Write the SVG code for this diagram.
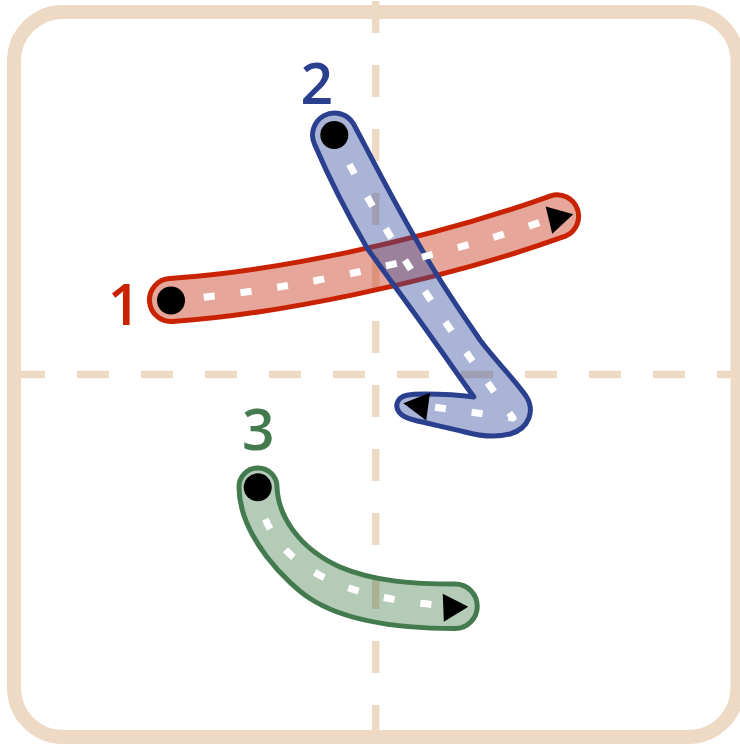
<svg xmlns="http://www.w3.org/2000/svg" width="740" height="744" viewBox="0 0 740 744">
  <style>
    .guide { fill: none; stroke: #eed9c4; stroke-width: 7.5; stroke-dasharray: 32 32; }
    .band { stroke-width: 5; stroke-linejoin: round; }
    .dir { fill: none; stroke: #ffffff; stroke-width: 7; stroke-dasharray: 11 26; stroke-dashoffset: 4; stroke-linejoin: round; }
    .start { fill: #000000; }
    .label { font-family: "Open Sans", "Liberation Sans", Arial, sans-serif; font-weight: 600; font-size: 57px; text-anchor: middle; }
  </style>
  <defs>
    <polygon id="arrow" points="-10,-14 15,0 -10,14" fill="#000000"/>
  </defs>

  <g id="frame">
    <rect x="14" y="12" width="723.5" height="725" rx="49" ry="49" fill="#ffffff" stroke="#eed9c4" stroke-width="14"/>
  </g>

  <g id="guides">
    <line class="guide" x1="375.7" y1="1" x2="375.7" y2="744"/>
    <line class="guide" x1="13" y1="374.5" x2="740" y2="374.5"/>
  </g>

  <g id="stroke-1">
    <path class="band" fill="#c83c1e" fill-opacity="0.45" stroke="#c82200"
      d="M169.6,278.5 C263.6,272.5 417.7,243.8 550.7,195.8 A21.5,21.5 0 0 1 565.3,236.2 C432.3,284.2 266.4,315.5 172.4,321.5 A21.5,21.5 0 0 1 169.6,278.5 Z"/>
  </g>

  <g id="stroke-2">
    <path class="band" fill="#344da0" fill-opacity="0.42" stroke="#2b3f8f"
      d="M314.7,144.5 A22,22 0 0 1 353.3,123.5 C365,145 395,205 425,255 C445,290 470,325 480,340 C495,360 515,380 526,396 C535,410 530,428 510,434 C495,438 480,436 465,432 C445,427 425,423 414,420 C400,417 394,409 398,401 C401,395 410,394 425,394 C440,394 460,395 474,397 C460,378 445,356 432,338 C410,307 390,280 367,248 C352,222 332,185 314.7,144.5 Z"/>
  </g>

  <g id="stroke-3">
    <path class="band" fill="#3c7846" fill-opacity="0.385" stroke="#437a4e"
      d="M239,487 A19,19 0 0 1 277,487 C278,515 298,548 340,567 C375,582 415,584 455,584 A22.25,22.25 0 0 1 455,628.5 C405,628.5 347.7,623.1 310,598.5 C289,584.9 239,537 239,487 Z"/>
  </g>

  <g id="connectors">
    <path class="dir" d="M171,300 C265,294 425,264 558,216"/>
    <path class="dir" d="M334,135 C384,232.5 433,307.6 513,418 L419,405"/>
    <path class="dir" d="M258,487 C262,550 320,600 455,606"/>
  </g>

  <g id="markers">
    <circle class="start" cx="171" cy="300.5" r="14"/>
    <circle class="start" cx="334.3" cy="135" r="14"/>
    <circle class="start" cx="257.7" cy="487.3" r="14"/>
    <use href="#arrow" transform="translate(558.7,217.8) rotate(-13.5)"/>
    <use href="#arrow" transform="translate(418.2,405.3) rotate(187.7)"/>
    <use href="#arrow" transform="translate(453.3,607.3) rotate(-2.2)"/>
  </g>

  <g id="labels">
    <text class="label" x="124" y="325" fill="#c82200">1</text>
    <text class="label" x="316.7" y="104" fill="#2b3f8f">2</text>
    <text class="label" x="258.3" y="450" fill="#437a4e">3</text>
  </g>
</svg>
